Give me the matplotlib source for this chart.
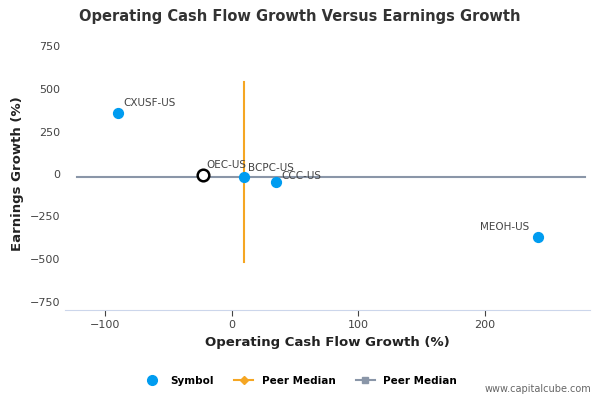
import matplotlib.pyplot as plt
import matplotlib.lines as mlines

# data
symbols = ["CXUSF-US", "OEC-US", "BCPC-US", "CCC-US", "MEOH-US"]
cash_growth = [-90, -23, 9.5, 35, 242]
earn_growth = [359, -5, -17, -45, -370]
median_x = 10
median_y = -17
median_span = [540, -515]
median_xspan = [-122, 279]

fig = plt.figure(figsize=(6, 4), dpi=100)
ax = fig.add_axes([0.108, 0.225, 0.875, 0.68])

blue = "#009cf0"
orange = "#f5a623"
grey = "#8a96a8"

ax.plot(median_xspan, [median_y, median_y], color=grey, lw=1.5, zorder=1)
ax.plot([median_x, median_x], median_span, color=orange, lw=1.5, zorder=2)

for s, x, y in zip(symbols, cash_growth, earn_growth):
    if s == "OEC-US":
        ax.scatter(x, y, s=70, facecolor="white", edgecolor="black", lw=1.8, zorder=4)
    else:
        ax.scatter(x, y, s=50, color=blue, zorder=3)

ax.annotate("CXUSF-US", (-90, 359), xytext=(4, 5), textcoords="offset points", fontsize=7.5, color="#444")
ax.annotate("OEC-US", (-23, -5), xytext=(3, 5), textcoords="offset points", fontsize=7.5, color="#444")
ax.annotate("BCPC-US", (9.5, -17), xytext=(3, 4), textcoords="offset points", fontsize=7.5, color="#444")
ax.annotate("CCC-US", (35, -45), xytext=(4, 2), textcoords="offset points", fontsize=7.5, color="#444")
ax.annotate("MEOH-US", (242, -370), xytext=(-42, 5), textcoords="offset points", fontsize=7.5, color="#444")

ax.set_xlim(-132, 283)
ax.set_ylim(-800, 800)
ax.set_xticks([-100, 0, 100, 200])
ax.set_yticks([-750, -500, -250, 0, 250, 500, 750])
ax.tick_params(labelsize=8, colors="#444", length=4)
ax.tick_params(axis="y", length=0)
for sp in ["top", "right", "left"]:
    ax.spines[sp].set_visible(False)
ax.spines["bottom"].set_color("#ccd6eb")

ax.set_xlabel("Operating Cash Flow Growth (%)", fontsize=9.5, fontweight="bold", color="#222")
ax.set_ylabel("Earnings Growth (%)", fontsize=9.5, fontweight="bold", color="#222")
fig.text(0.5, 0.958, "Operating Cash Flow Growth Versus Earnings Growth",
         ha="center", va="center", fontsize=10.5, fontweight="bold", color="#333")

handles = [
    mlines.Line2D([], [], color=blue, marker="o", ls="", markersize=7, label="Symbol"),
    mlines.Line2D([], [], color=orange, marker="D", markersize=4, label="Peer Median"),
    mlines.Line2D([], [], color=grey, marker="s", markersize=5, label="Peer Median"),
]
fig.legend(handles=handles, loc="center", bbox_to_anchor=(0.5, 0.048), ncol=3,
           frameon=False, fontsize=7.5, handlelength=1.8,
           prop={"size": 7.5, "weight": "bold"})
fig.text(0.985, 0.02, "www.capitalcube.com", ha="right", fontsize=7, color="#666")

fig.savefig("out.png")
